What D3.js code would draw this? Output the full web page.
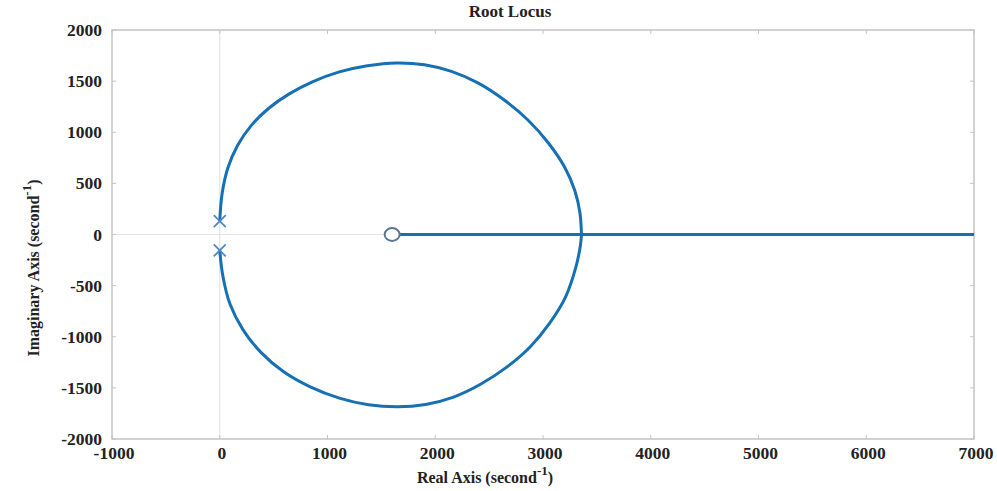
<!DOCTYPE html>
<html>
<head>
<meta charset="utf-8">
<title>Root Locus</title>
<script src="https://d3js.org/d3.v7.min.js"></script>
<style>
  body { margin: 0; background: #fff; }
  .tick-label { font: bold 17.5px "Liberation Serif", "Times New Roman", serif; fill: #222; }
  .title { font: bold 17px "Liberation Serif", "Times New Roman", serif; fill: #222; }
  .axis-label { font: bold 16px "Liberation Serif", "Times New Roman", serif; fill: #222; }
</style>
</head>
<body>
<svg width="997" height="491"></svg>
<script>
// ticks
var xTicks = [-1000, 0, 1000, 2000, 3000, 4000, 5000, 6000, 7000];
var yTicks = [-2000, -1500, -1000, -500, 0, 500, 1000, 1500, 2000];

// upper branch, pole -> real axis crossing  [real, imag]
var upperBranch = [
  [0, 130], [22, 400], [75, 650], [165, 870], [295, 1070], [455, 1235],
  [645, 1375], [865, 1495], [1110, 1590], [1370, 1650], [1640, 1678],
  [1900, 1660], [2150, 1595], [2400, 1480], [2640, 1315], [2860, 1120],
  [3050, 895], [3200, 660], [3295, 430], [3343, 210], [3357, 0]
];
// lower branch
var lowerBranch = [
  [0, -155], [28, -400], [95, -680], [215, -930], [380, -1150],
  [590, -1340], [840, -1490], [1110, -1600], [1380, -1665], [1650, -1685],
  [1910, -1662], [2170, -1590], [2420, -1465], [2660, -1300], [2880, -1100],
  [3060, -870], [3210, -610], [3305, -320], [3348, -100], [3357, 0]
];
// branch running along the real axis from the zero
var realBranch = [[1600, 0], [7000, 0]];

var poles = [[0, 130], [0, -155]];
var zeros = [[1600, 0]];

var svg = d3.select("svg");
var pLeft = 112, pRight = 974, pTop = 30, pBottom = 439;

var x = d3.scaleLinear().domain([-1000, 7000]).range([pLeft, pRight]);
var y = d3.scaleLinear().domain([-2000, 2000]).range([pBottom, pTop]);

svg.append("defs").append("clipPath").attr("id", "clip")
  .append("rect").attr("x", pLeft).attr("y", pTop)
  .attr("width", pRight - pLeft).attr("height", pBottom - pTop);

// zero lines
svg.append("line").attr("x1", x(0)).attr("x2", x(0)).attr("y1", pTop).attr("y2", pBottom)
  .attr("stroke", "#e4e4e4").attr("stroke-width", 1.2);
svg.append("line").attr("x1", pLeft).attr("x2", pRight).attr("y1", y(0)).attr("y2", y(0))
  .attr("stroke", "#e4e4e4").attr("stroke-width", 1.2);

// box
svg.append("rect").attr("x", pLeft).attr("y", pTop)
  .attr("width", pRight - pLeft).attr("height", pBottom - pTop)
  .attr("fill", "none").attr("stroke", "#c4c4c4").attr("stroke-width", 1.5);

// inward ticks
var tl = 4;
xTicks.forEach(function (t) {
  svg.append("line").attr("x1", x(t)).attr("x2", x(t)).attr("y1", pBottom).attr("y2", pBottom - tl)
    .attr("stroke", "#c4c4c4");
  svg.append("line").attr("x1", x(t)).attr("x2", x(t)).attr("y1", pTop).attr("y2", pTop + tl)
    .attr("stroke", "#c4c4c4");
});
yTicks.forEach(function (t) {
  svg.append("line").attr("x1", pLeft).attr("x2", pLeft + tl).attr("y1", y(t)).attr("y2", y(t))
    .attr("stroke", "#c4c4c4");
  svg.append("line").attr("x1", pRight).attr("x2", pRight - tl).attr("y1", y(t)).attr("y2", y(t))
    .attr("stroke", "#c4c4c4");
});

svg.selectAll(".xl").data(xTicks).enter().append("text")
  .attr("class", "tick-label")
  .attr("x", function (d) { return x(d) + 2; })
  .attr("y", 459)
  .attr("text-anchor", "middle")
  .text(function (d) { return d; });

svg.selectAll(".yl").data(yTicks).enter().append("text")
  .attr("class", "tick-label")
  .attr("x", 102)
  .attr("y", function (d) { return y(d) + 6; })
  .attr("text-anchor", "end")
  .text(function (d) { return d; });

// locus
var line = d3.line().x(function (d) { return x(d[0]); }).y(function (d) { return y(d[1]); })
  .curve(d3.curveCatmullRom.alpha(0.5));
var g = svg.append("g").attr("clip-path", "url(#clip)");
[upperBranch, lowerBranch, realBranch].forEach(function (b) {
  g.append("path").attr("d", line(b))
    .attr("fill", "none").attr("stroke", "#1670b4").attr("stroke-width", 3)
    .attr("stroke-linejoin", "round");
});

// poles
var s = 6;
poles.forEach(function (p) {
  var px = x(p[0]), py = y(p[1]);
  g.append("path")
    .attr("d", "M" + (px - s) + "," + (py - s) + "L" + (px + s) + "," + (py + s) +
               "M" + (px - s) + "," + (py + s) + "L" + (px + s) + "," + (py - s))
    .attr("stroke", "#4f88c8").attr("stroke-width", 1.8).attr("fill", "none");
});
// zeros
zeros.forEach(function (z) {
  g.append("ellipse").attr("cx", x(z[0])).attr("cy", y(z[1]))
    .attr("rx", 7.5).attr("ry", 6.5)
    .attr("fill", "#fff").attr("stroke", "#5a7796").attr("stroke-width", 2);
});

// title
svg.append("text").attr("class", "title").attr("x", 510).attr("y", 17)
  .attr("text-anchor", "middle").text("Root Locus");

// x label
var xl = svg.append("text").attr("class", "axis-label").attr("x", 485).attr("y", 483)
  .attr("text-anchor", "middle");
xl.append("tspan").text("Real Axis (second");
xl.append("tspan").attr("dy", -8).attr("font-size", 13).text("-1");
xl.append("tspan").attr("dy", 8).text(")");

// y label
var yl = svg.append("text").attr("class", "axis-label")
  .attr("transform", "translate(39,268) rotate(-90)")
  .attr("text-anchor", "middle");
yl.append("tspan").text("Imaginary Axis (second");
yl.append("tspan").attr("dy", -8).attr("font-size", 13).text("-1");
yl.append("tspan").attr("dy", 8).text(")");
</script>
</body>
</html>
